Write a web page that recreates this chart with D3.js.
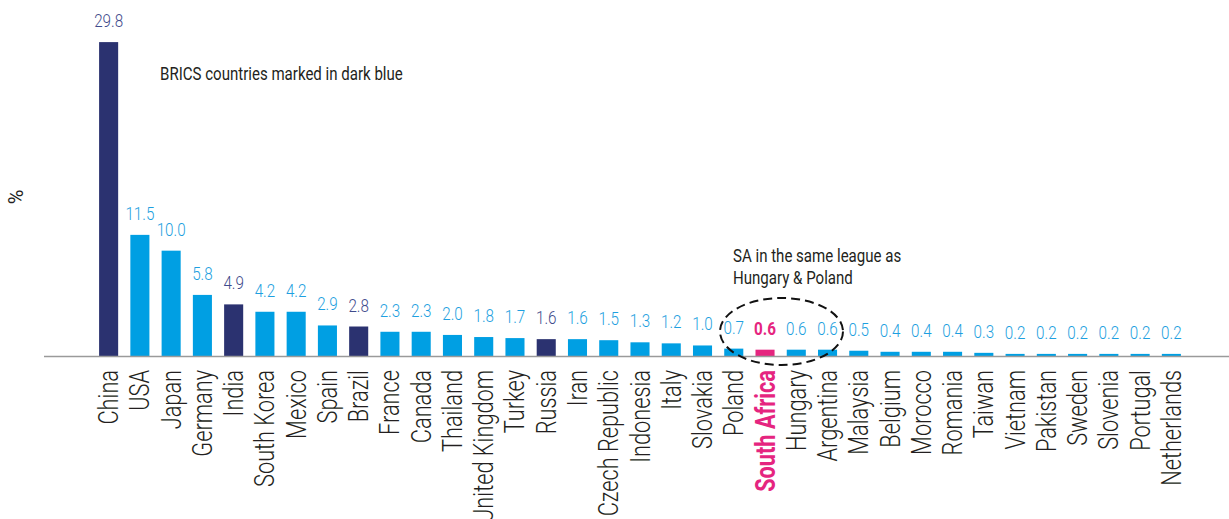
<!DOCTYPE html>
<html>
<head>
<meta charset="utf-8">
<script src="https://cdn.jsdelivr.net/npm/d3@7.9.0/dist/d3.min.js"></script>
<style>
  body { margin: 0; background: #fff; }
  svg text { font-family: Roboto, "Liberation Sans", sans-serif; font-weight: 300; }
</style>
</head>
<body>
<svg id="chart" width="1229" height="519"></svg>
<script>
const countries = ["China", "USA", "Japan", "Germany", "India", "South Korea", "Mexico", "Spain", "Brazil",
  "France", "Canada", "Thailand", "United Kingdom", "Turkey", "Russia", "Iran", "Czech Republic",
  "Indonesia", "Italy", "Slovakia", "Poland", "South Africa", "Hungary", "Argentina", "Malaysia",
  "Belgium", "Morocco", "Romania", "Taiwan", "Vietnam", "Pakistan", "Sweden", "Slovenia", "Portugal",
  "Netherlands"];
const values = [29.8, 11.5, 10.0, 5.8, 4.9, 4.2, 4.2, 2.9, 2.8, 2.3, 2.3, 2.0, 1.8, 1.7, 1.6, 1.6, 1.5,
  1.3, 1.2, 1.0, 0.7, 0.6, 0.6, 0.6, 0.5, 0.4, 0.4, 0.4, 0.3, 0.2, 0.2, 0.2, 0.2, 0.2, 0.2];
const brics = ["China", "India", "Brazil", "Russia"];
const highlight = "South Africa";

const data = countries.map((c, i) => ({ country: c, value: values[i] }));

const svg = d3.select("#chart");
const baseY = 356;

// condensed look: measure a sample string and squeeze to the target width
function squeeze(sample, size, target, weight) {
  const t = svg.append("text").attr("font-size", size).style("font-weight", weight || 300).text(sample);
  const w = t.node().getComputedTextLength();
  t.remove();
  return target / w;
}
const sVal = squeeze("29.8", 18, 29);
const sCat = squeeze("South Korea", 27, 117);
const sNote = squeeze("BRICS countries marked in dark blue", 17.5, 243, 400);

const x = d3.scaleBand()
  .domain(countries)
  .range([93, 1187])
  .paddingInner(0.39)
  .paddingOuter(0.195);

const y = d3.scaleLinear().domain([0, 30]).range([baseY, 40]);

// bar and label colours
const barColor = d => d.country === highlight ? "#e5257f" : brics.includes(d.country) ? "#2b3270" : "#009fe3";
const valColor = d => d.country === highlight ? "#e5257f" : brics.includes(d.country) ? "#3f4b8c" : "#1e9fe0";

svg.selectAll("rect.bar")
  .data(data)
  .join("rect")
  .attr("class", "bar")
  .attr("x", d => x(d.country))
  .attr("width", x.bandwidth())
  .attr("y", d => y(d.value))
  .attr("height", d => baseY - y(d.value))
  .attr("fill", barColor);

// baseline
svg.append("line")
  .attr("x1", 44).attr("x2", 1229)
  .attr("y1", baseY + 0.5).attr("y2", baseY + 0.5)
  .attr("stroke", "#9a9a9a").attr("stroke-width", 1.6);

// value labels
svg.selectAll("text.val")
  .data(data)
  .join("text")
  .attr("class", "val")
  .attr("transform", d => `translate(${x(d.country) + x.bandwidth() / 2},${y(d.value) - 15}) scale(${sVal},1)`)
  .attr("text-anchor", "middle")
  .attr("font-size", 18)
  .style("font-weight", d => d.country === highlight ? 700 : 300)
  .attr("fill", valColor)
  .text(d => d.value.toFixed(1));

// country labels (rotated)
svg.selectAll("text.cat")
  .data(data)
  .join("text")
  .attr("class", "cat")
  .attr("transform", d => `translate(${x(d.country) + x.bandwidth() / 2 + 9.5},${baseY + 14}) rotate(-90) scale(${sCat},1)`)
  .attr("text-anchor", "end")
  .attr("font-size", 27)
  .style("font-weight", d => d.country === highlight ? 700 : 300)
  .attr("fill", d => d.country === highlight ? "#e5257f" : "#231f20")
  .text(d => d.country);

// y axis unit
svg.append("text")
  .attr("transform", "translate(23,197) rotate(-90)")
  .attr("text-anchor", "middle")
  .attr("font-size", 20)
  .style("font-weight", 400)
  .attr("fill", "#231f20")
  .text("%");

// annotations
svg.append("text")
  .attr("transform", `translate(160,80) scale(${sNote},1)`)
  .attr("font-size", 17.5)
  .style("font-weight", 400)
  .attr("fill", "#231f20")
  .text("BRICS countries marked in dark blue");

const note = svg.append("text")
  .attr("transform", `translate(733,262) scale(${sNote},1)`)
  .attr("font-size", 17.5)
  .style("font-weight", 400)
  .attr("fill", "#231f20");
note.append("tspan").attr("x", 0).text("SA in the same league as");
note.append("tspan").attr("x", 0).attr("dy", 22.5).text("Hungary & Poland");

svg.append("ellipse")
  .attr("cx", 781.5).attr("cy", 331.5)
  .attr("rx", 61.5).attr("ry", 33.5)
  .attr("fill", "none")
  .attr("stroke", "#111")
  .attr("stroke-width", 2)
  .attr("stroke-dasharray", "9,5");
</script>
</body>
</html>
